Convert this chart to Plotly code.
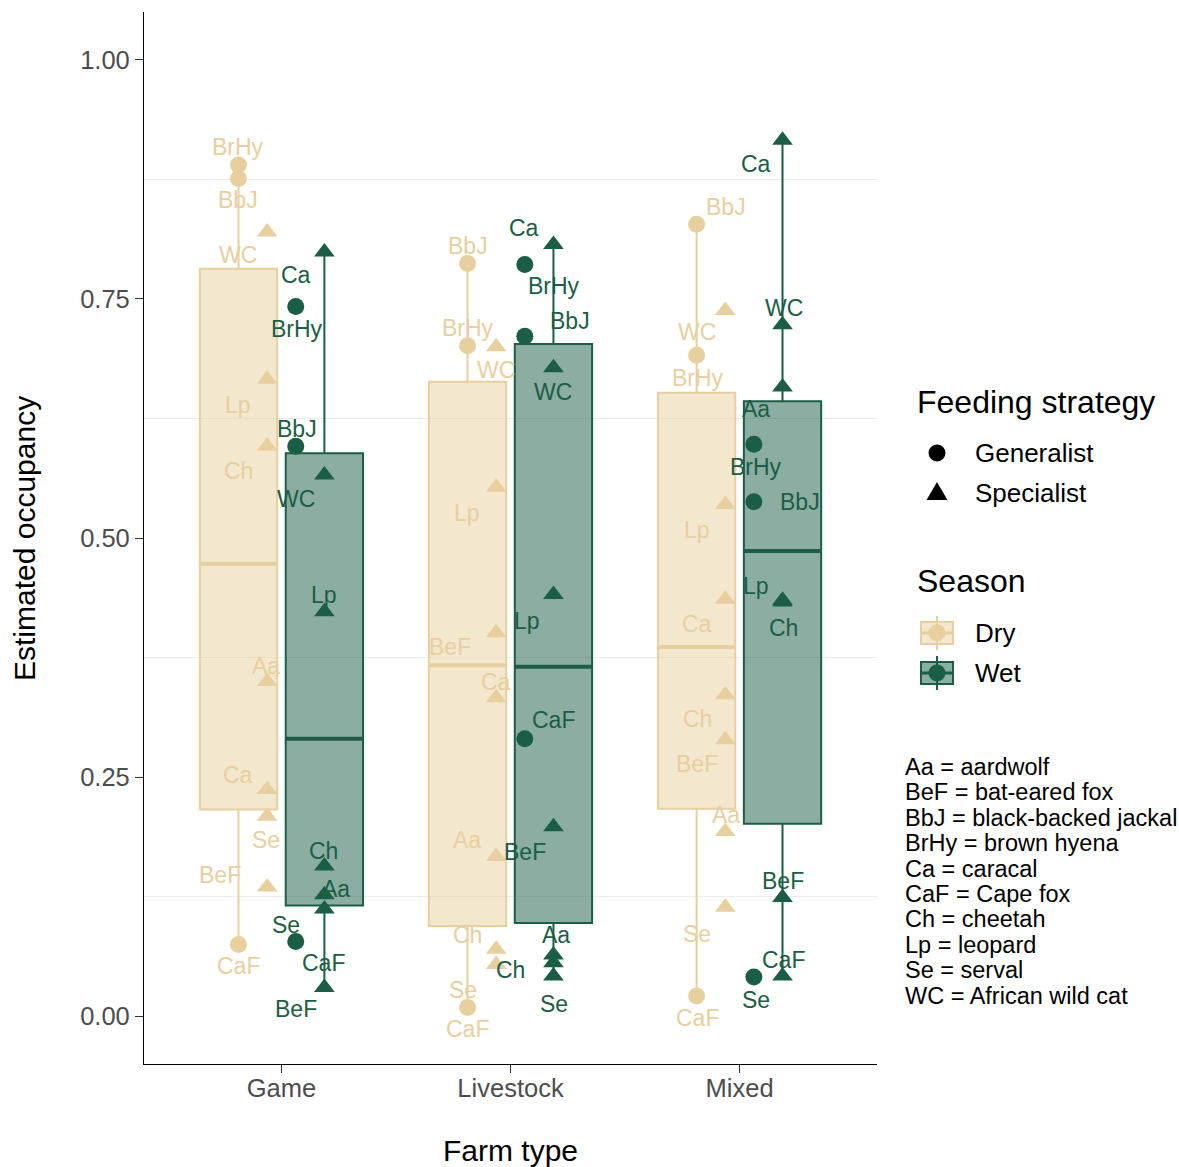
import numpy as np
import plotly.graph_objects as go

# ---- data -------------------------------------------------------------
FARM_TYPES = ["Game", "Livestock", "Mixed"]
SEASONS = ["Dry", "Wet"]
SPECIES = ["Aa", "BeF", "BbJ", "BrHy", "Ca", "CaF", "Ch", "Lp", "Se", "WC"]
FEEDING = ["Specialist", "Specialist", "Generalist", "Generalist", "Specialist",
           "Generalist", "Specialist", "Specialist", "Specialist", "Specialist"]
SPECIES_NAMES = ["aardwolf", "bat-eared fox", "black-backed jackal", "brown hyena",
                 "caracal", "Cape fox", "cheetah", "leopard", "serval", "African wild cat"]

# estimated occupancy, ordered as SPECIES
game_dry = [0.350, 0.135, 0.876, 0.890, 0.237, 0.075, 0.596, 0.666, 0.209, 0.820]
game_wet = [0.127, 0.030, 0.596, 0.742, 0.799, 0.078, 0.157, 0.423, 0.112, 0.566]
livestock_dry = [0.167, 0.401, 0.787, 0.701, 0.333, 0.009, 0.070, 0.553, 0.054, 0.700]
livestock_wet = [0.064, 0.198, 0.711, 0.786, 0.807, 0.290, 0.056, 0.441, 0.042, 0.678]
mixed_dry = [0.193, 0.289, 0.828, 0.691, 0.436, 0.021, 0.336, 0.535, 0.114, 0.738]
mixed_wet = [0.658, 0.124, 0.538, 0.598, 0.916, 0.041, 0.435, 0.433, 0.042, 0.723]

OCCUPANCY = {
    ("Game", "Dry"): game_dry, ("Game", "Wet"): game_wet,
    ("Livestock", "Dry"): livestock_dry, ("Livestock", "Wet"): livestock_wet,
    ("Mixed", "Dry"): mixed_dry, ("Mixed", "Wet"): mixed_wet,
}

# ---- styling ----------------------------------------------------------
FONT = "Liberation Sans, Arial, sans-serif"
COLORS = {"Dry": "#E8CF9E", "Wet": "#1A5E46"}
FILLS = {"Dry": "rgba(232,207,158,0.5)", "Wet": "rgba(26,94,70,0.5)"}
SYMBOLS = {"Generalist": "circle", "Specialist": "triangle-up"}
SIZES = {"Generalist": 17, "Specialist": 18}

BOX_SHIFT = {"Dry": -0.1875, "Wet": 0.1875}
BOX_WIDTH = 0.3375
POINT_SHIFT = {("Dry", "Generalist"): -0.1875, ("Dry", "Specialist"): -0.0625,
               ("Wet", "Generalist"): 0.0625, ("Wet", "Specialist"): 0.1875}

# label nudges in screen pixels (right, down), ordered as SPECIES
LABEL_NUDGE = {
    ("Game", "Dry"): [(-1, -15), (-47, -12), (0, 22), (0, -18), (-29, -15),
                      (0, 22), (-29, 25), (-29, 26), (-1, 24), (-29, 23)],
    ("Game", "Wet"): [(12, -6), (-28, 22), (1, -17), (1, 22), (-28, 23),
                      (28, 21), (-1, -15), (0, -17), (-38, 16), (-28, 24)],
    ("Livestock", "Dry"): [(-29, -16), (-46, 14), (0, -18), (0, -18), (0, -16),
                           (0, 21), (-29, -14), (-29, 26), (-33, 25), (0, 23)],
    ("Livestock", "Wet"): [(3, -20), (-28, 25), (45, -15), (29, 22), (-29, -16),
                           (29, -19), (-43, 7), (-26, 27), (1, 28), (0, 24)],
    ("Mixed", "Dry"): [(1, -17), (-28, 24), (29, -17), (1, 23), (-28, 25),
                       (1, 22), (-28, 24), (-28, 25), (-28, 27), (-28, 22)],
    ("Mixed", "Wet"): [(-27, 22), (0, -17), (46, 0), (2, 23), (-27, 24),
                       (30, -17), (1, 28), (-27, -16), (-27, 24), (1, -17)],
}

W, H = 1179, 1167
ML, MR, MT, MB = 144, 302, 12, 103
PW, PH = W - ML - MR, H - MT - MB


def px(xp):
    return (xp - ML) / PW


def py(yp):
    return (H - MB - yp) / PH


fig = go.Figure()

# ---- boxes (Tukey statistics from the occupancy values) -----------------
for season in SEASONS:
    for i, farm in enumerate(FARM_TYPES):
        v = np.array(OCCUPANCY[(farm, season)])
        q1, med, q3 = np.percentile(v, [25, 50, 75])
        iqr = q3 - q1
        lo = v[v >= q1 - 1.5 * iqr].min()
        hi = v[v <= q3 + 1.5 * iqr].max()
        xc = i + 1 + BOX_SHIFT[season]
        fig.add_trace(go.Box(
            x=[xc], q1=[q1], median=[med], q3=[q3], lowerfence=[lo], upperfence=[hi],
            width=BOX_WIDTH, whiskerwidth=0, boxpoints=False,
            fillcolor=FILLS[season], line=dict(color=COLORS[season], width=2),
            showlegend=False, hoverinfo="skip",
        ))
        fig.add_trace(go.Scatter(
            x=[xc - BOX_WIDTH / 2, xc + BOX_WIDTH / 2], y=[med, med], mode="lines",
            line=dict(color=COLORS[season], width=4), showlegend=False, hoverinfo="skip",
        ))

# ---- species points -----------------------------------------------------
for season in SEASONS:
    for strategy in ["Generalist", "Specialist"]:
        xs, ys = [], []
        for i, farm in enumerate(FARM_TYPES):
            for sp, feed, val in zip(SPECIES, FEEDING, OCCUPANCY[(farm, season)]):
                if feed == strategy:
                    xs.append(i + 1 + POINT_SHIFT[(season, strategy)])
                    ys.append(val)
        fig.add_trace(go.Scatter(
            x=xs, y=ys, mode="markers", cliponaxis=False,
            marker=dict(symbol=SYMBOLS[strategy], size=SIZES[strategy],
                        color=COLORS[season], line=dict(width=0)),
            showlegend=False,
        ))

# ---- species labels -----------------------------------------------------
annotations = []
for season in SEASONS:
    for i, farm in enumerate(FARM_TYPES):
        vals = OCCUPANCY[(farm, season)]
        for sp, feed, val, (dx, dy) in zip(SPECIES, FEEDING, vals, LABEL_NUDGE[(farm, season)]):
            annotations.append(dict(
                x=i + 1 + POINT_SHIFT[(season, feed)], y=val, xref="x", yref="y",
                text=sp, showarrow=False, xshift=dx, yshift=-dy,
                xanchor="center", yanchor="middle",
                font=dict(family=FONT, size=23, color=COLORS[season]),
            ))

# ---- axis titles ----------------------------------------------------------
annotations.append(dict(x=0.5, y=py(1150), xref="paper", yref="paper", text="Farm type",
                        showarrow=False, xanchor="center", yanchor="middle",
                        font=dict(family=FONT, size=30, color="black")))
annotations.append(dict(x=px(25), y=py(539), xref="paper", yref="paper",
                        text="Estimated occupancy", textangle=-90, showarrow=False,
                        xanchor="center", yanchor="middle",
                        font=dict(family=FONT, size=30, color="black")))

# ---- legends --------------------------------------------------------------
shapes = []


def legend_text(text, x, y, size):
    annotations.append(dict(x=px(x), y=py(y), xref="paper", yref="paper", text=text,
                            showarrow=False, xanchor="left", yanchor="middle",
                            font=dict(family=FONT, size=size, color="black")))


legend_text("Feeding strategy", 915, 402, 32)
# generalist key: filled circle
shapes.append(dict(type="circle", xref="paper", yref="paper",
                   x0=px(937 - 8.5), x1=px(937 + 8.5), y0=py(453 + 8.5), y1=py(453 - 8.5),
                   fillcolor="black", line=dict(width=0)))
legend_text("Generalist", 973, 453, 26)
# specialist key: filled triangle
tri = "M {} {} L {} {} L {} {} Z".format(px(926.5), py(500), px(947.5), py(500), px(937), py(482))
shapes.append(dict(type="path", xref="paper", yref="paper", path=tri,
                   fillcolor="black", line=dict(width=0)))
legend_text("Specialist", 973, 493, 26)

legend_text("Season", 915, 581, 32)
for season, yc in zip(SEASONS, [633, 673]):
    c = COLORS[season]
    shapes.append(dict(type="line", xref="paper", yref="paper",
                       x0=px(937), x1=px(937), y0=py(yc - 17), y1=py(yc + 17),
                       line=dict(color=c, width=2)))
    shapes.append(dict(type="rect", xref="paper", yref="paper",
                       x0=px(921), x1=px(953), y0=py(yc + 11), y1=py(yc - 11),
                       fillcolor=FILLS[season], line=dict(color=c, width=2)))
    shapes.append(dict(type="line", xref="paper", yref="paper",
                       x0=px(921), x1=px(953), y0=py(yc), y1=py(yc),
                       line=dict(color=c, width=3)))
    shapes.append(dict(type="circle", xref="paper", yref="paper",
                       x0=px(937 - 8.5), x1=px(937 + 8.5), y0=py(yc + 8.5), y1=py(yc - 8.5),
                       fillcolor=c, line=dict(width=0)))
    legend_text(season, 973, yc, 26)

# species key
for k, (sp, name) in enumerate(zip(SPECIES, SPECIES_NAMES)):
    legend_text(f"{sp} = {name}", 903, 767 + 25.4 * k, 23.5)

tick_font = dict(family=FONT, size=25.5, color="#4D4D4D")
fig.update_layout(
    width=W, height=H,
    margin=dict(l=ML, r=MR, t=MT, b=MB, pad=0),
    paper_bgcolor="white", plot_bgcolor="white",
    boxmode="overlay", showlegend=False,
    annotations=annotations, shapes=shapes,
    xaxis=dict(range=[0.4, 3.6], tickmode="array", tickvals=[1, 2, 3], ticktext=FARM_TYPES,
               showline=True, linecolor="black", linewidth=1.2,
               ticks="outside", ticklen=8, tickwidth=1.2, tickcolor="#333333",
               tickfont=tick_font, showgrid=False, zeroline=False,
               ticklabelstandoff=-7),
    yaxis=dict(range=[-0.05, 1.05], tickmode="array",
               tickvals=[0, 0.25, 0.5, 0.75, 1.0],
               ticktext=["0.00", "0.25", "0.50", "0.75", "1.00"],
               showline=True, linecolor="black", linewidth=1.2,
               ticks="outside", ticklen=8, tickwidth=1.2, tickcolor="#333333",
               tickfont=tick_font, showgrid=False, zeroline=False,
               minor=dict(tickmode="array", tickvals=[0.125, 0.375, 0.625, 0.875],
                          showgrid=True, gridcolor="#EBEBEB", gridwidth=1.2, ticks="")),
)

fig.write_html("out.html")
